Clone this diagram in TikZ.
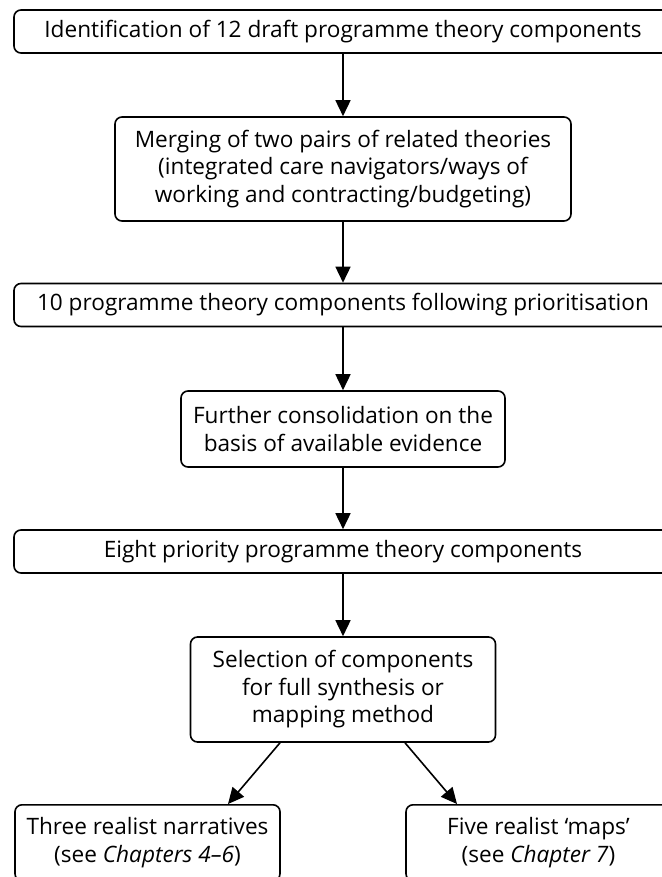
\documentclass[tikz,border=0pt]{standalone}
\usepackage{fontspec}
\setmainfont{Open Sans}
\usetikzlibrary{arrows.meta,calc}
\begin{document}
\begin{tikzpicture}[x=1pt,y=-1pt,
  every node/.style={font=\fontsize{22.6}{27.5}\selectfont},
  stage/.style={draw, line width=1.6pt, rounded corners=7pt, align=center,
    inner sep=0pt, minimum height=#1},
  stage/.default=43pt,
  flow/.style={line width=1.6pt, -{Triangle[length=16pt,width=15pt]}}]
\useasboundingbox (0,0) rectangle (661,877);
% stages down the centre line
\node[stage, minimum width=658pt] (b1) at (343,31.5)
  {Identification of 12 draft programme theory components};
\node[stage=104pt, minimum width=456pt] (b2) at (343,169)
  {Merging of two pairs of related theories\\(integrated care navigators/ways of\\working and contracting/budgeting)};
\node[stage, minimum width=658pt] (b3) at (343,305)
  {10 programme theory components following prioritisation};
\node[stage=76pt, minimum width=324pt] (b4) at (343,429)
  {Further consolidation on the\\basis of available evidence};
\node[stage, minimum width=658pt] (b5) at (343,551.5)
  {Eight priority programme theory components};
\node[stage=105pt, minimum width=305pt] (b6) at (343,689.5)
  {Selection of components\\for full synthesis or\\mapping method};
% the two outcomes
\node[stage=76pt, minimum width=265pt, anchor=north] (b7) at (147.5,804)
  {Three realist narratives\\(see \textit{Chapters 4--6})};
\node[stage=76pt, minimum width=265pt, anchor=north] (b8) at (538.5,804)
  {Five realist ‘maps’\\(see \textit{Chapter 7})};
% connectors
\draw[flow] (b1.south) -- (b2.north);
\draw[flow] (b2.south) -- (b3.north);
\draw[flow] (b3.south) -- (b4.north);
\draw[flow] (b4.south) -- (b5.north);
\draw[flow] (b5.south) -- (b6.north);
\draw[flow] ($(b6.south)+(-63,0)$) -- ($(b7.north)+(80.5,0)$);
\draw[flow] ($(b6.south)+(62,0)$) -- ($(b8.north)+(-81.5,0)$);
\end{tikzpicture}
\end{document}
